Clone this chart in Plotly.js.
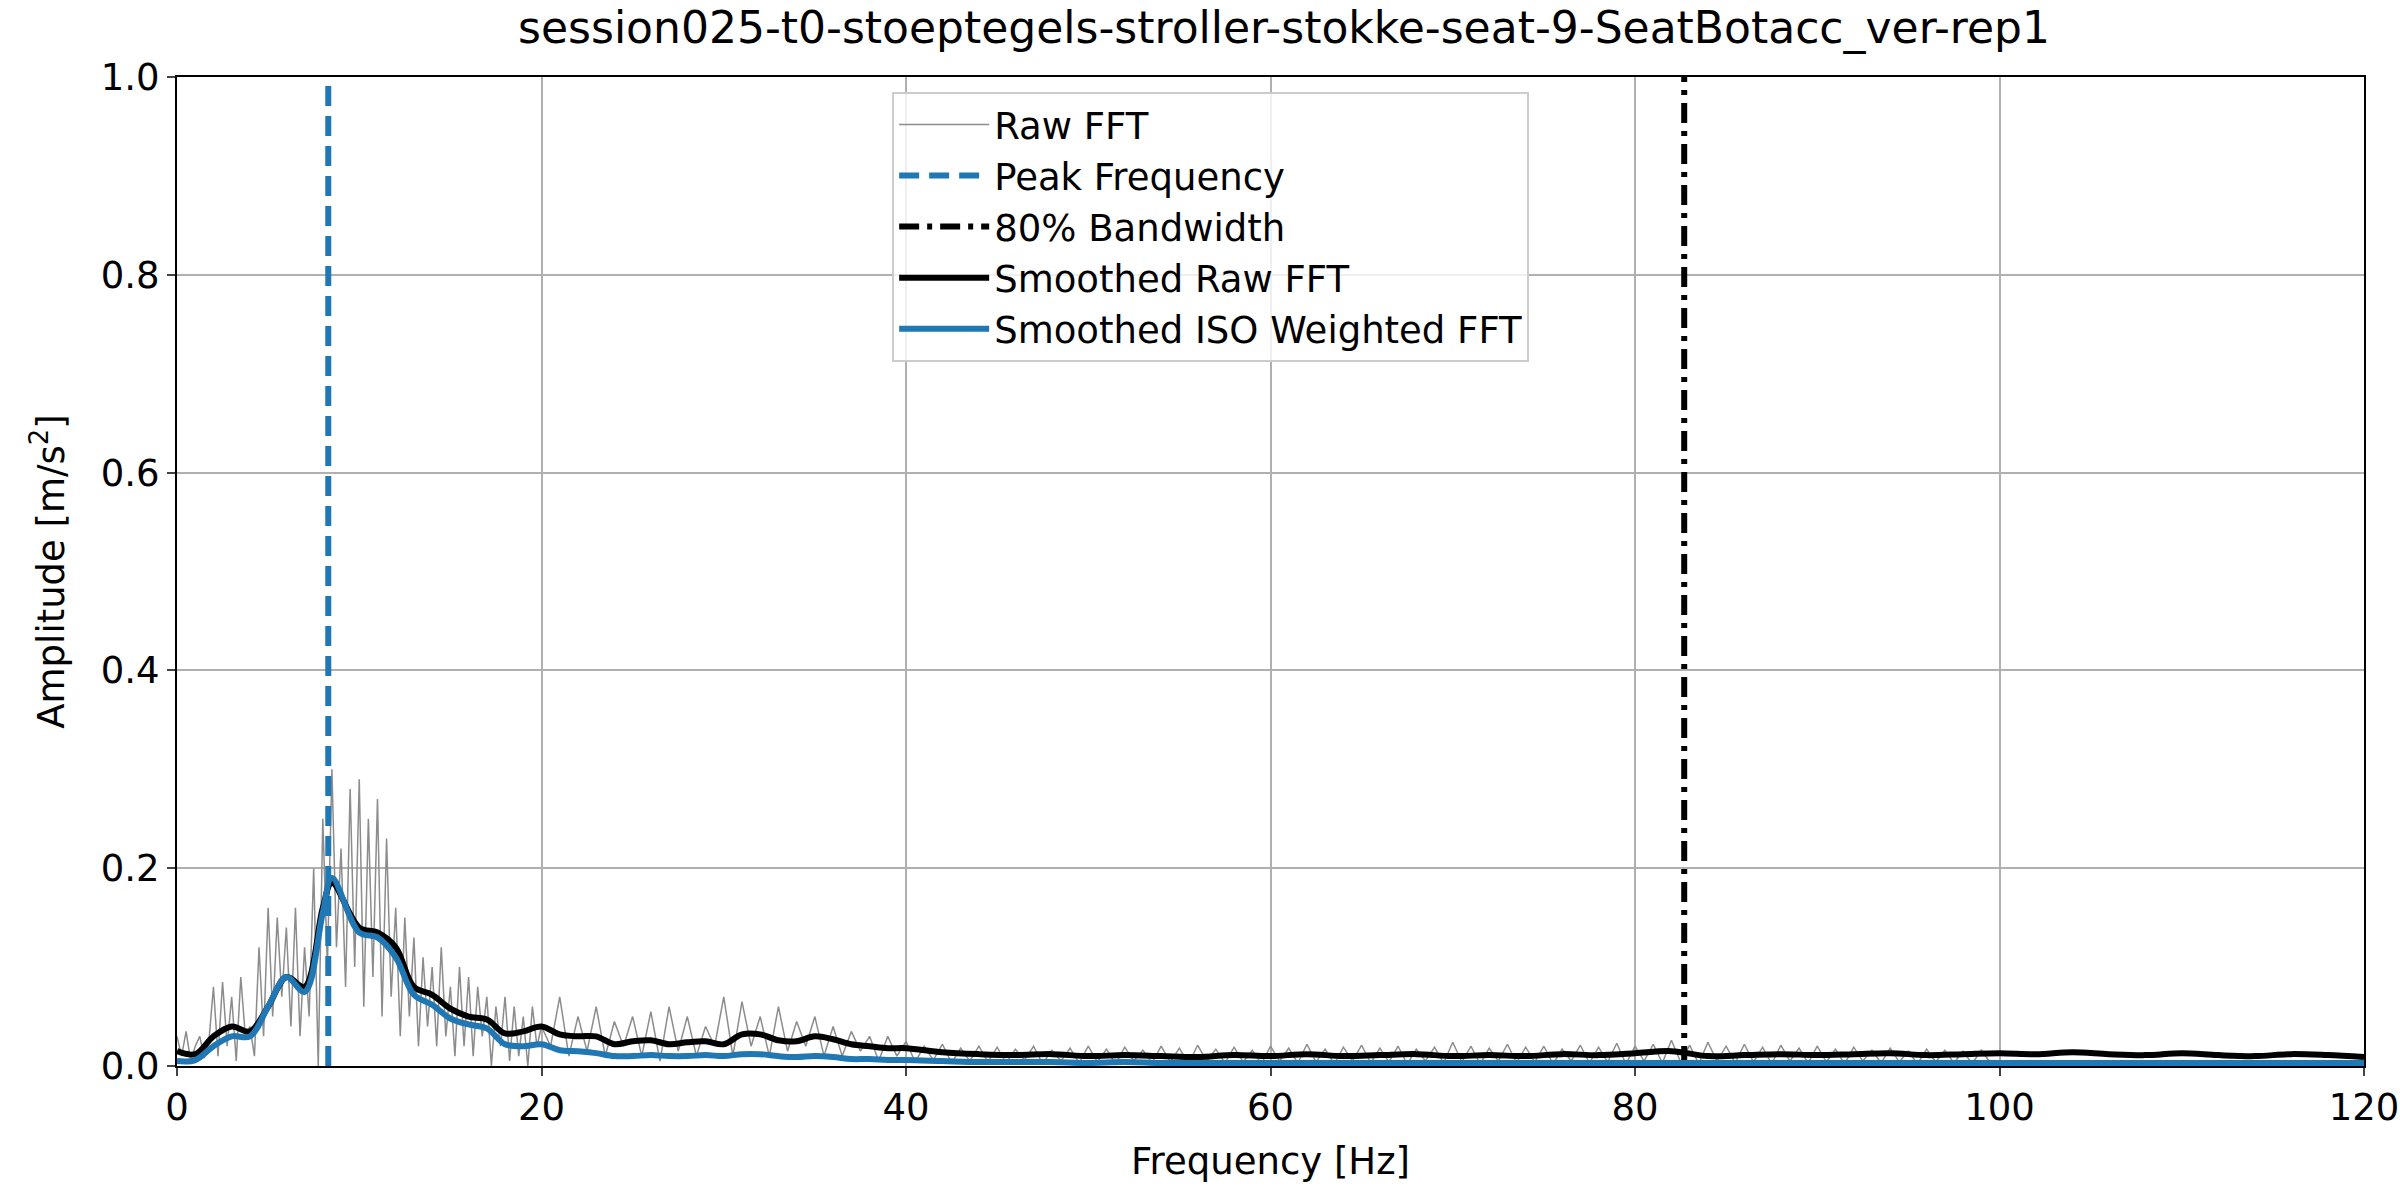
<!DOCTYPE html>
<html>
<head>
<meta charset="utf-8">
<script src="https://cdn.plot.ly/plotly-3.0.1.min.js"></script>
<style>body{margin:0;background:#fff}#chart{width:2400px;height:1200px}</style>
</head>
<body>
<div id="chart"></div>
<script>
// raw FFT amplitude, 0-20 Hz at 0.25 Hz
var rawLow = [0.03,0.01,0.035,0.005,0.02,0.03,0.008,0.025,
  0.08,0.01,0.085,0.02,0.07,0.005,0.09,0.03,
  0.04,0.01,0.12,0.03,0.16,0.05,0.15,0.07,
  0.14,0.04,0.16,0.03,0.12,0.05,0.2,0.0,
  0.25,0.1,0.3,0.12,0.22,0.08,0.28,0.1,
  0.29,0.06,0.25,0.09,0.27,0.05,0.23,0.07,
  0.16,0.03,0.15,0.05,0.13,0.02,0.11,0.04,
  0.1,0.02,0.12,0.03,0.08,0.01,0.1,0.02,
  0.09,0.01,0.08,0.03,0.07,0.0,0.06,0.02,
  0.07,0.005,0.06,0.01,0.05,0.0,0.06,0.02,0.04];
// raw FFT amplitude, 20.5-120 Hz at 0.5 Hz
var rawHigh = [0.02,0.07,0.01,0.05,0.015,0.06,0.01,0.045,0.02,0.05,
  0.01,0.055,0.005,0.06,0.015,0.05,0.01,0.04,0.02,0.07,
  0.01,0.065,0.02,0.05,0.01,0.06,0.015,0.045,0.02,0.05,
  0.01,0.04,0.01,0.035,0.015,0.03,0.005,0.03,0.01,
  0.025,0.004,0.02,0.006,0.022,0.003,0.018,0.005,0.02,0.004,
  0.019,0.003,0.017,0.006,0.02,0.002,0.016,0.005,0.018,0.003,
  0.02,0.004,0.017,0.002,0.019,0.005,0.016,0.003,0.02,0.004,
  0.018,0.002,0.021,0.005,0.017,0.003,0.019,0.004,0.016,0.002,
  0.02,0.005,0.018,0.003,0.022,0.004,0.017,0.002,0.019,0.005,
  0.021,0.003,0.018,0.004,0.02,0.002,0.017,0.005,0.019,0.003,
  0.024,0.004,0.02,0.002,0.018,0.005,0.022,0.003,0.019,0.004,
  0.02,0.002,0.017,0.005,0.021,0.003,0.019,0.004,0.023,0.002,
  0.02,0.005,0.022,0.003,0.026,0.004,0.021,0.002,0.024,0.005,
  0.02,0.003,0.022,0.004,0.019,0.002,0.021,0.005,0.018,0.003,
  0.02,0.004,0.017,0.002,0.019,0.005,0.016,0.003,0.018,0.004,
  0.015,0.002,0.017,0.004,0.016,0.003,0.015,0.002,0.016,0.003];
// smoothed curves, 1 Hz steps 0-40
var smoothRaw = [0.015,0.012,0.03,0.04,0.035,0.06,0.09,0.08,0.16,0.16,0.14,0.135,0.12,0.08,0.072,0.058,0.05,0.047,0.033,0.035,
  0.04,0.032,0.03,0.03,0.022,0.025,0.026,0.022,0.024,0.025,0.022,0.032,0.032,0.026,0.025,0.03,0.027,0.022,0.02,0.018,0.018];
var smoothIso = [0.005,0.006,0.02,0.03,0.03,0.06,0.09,0.075,0.155,0.155,0.135,0.13,0.11,0.072,0.062,0.048,0.042,0.038,0.022,0.02,
  0.022,0.016,0.015,0.013,0.01,0.01,0.011,0.01,0.01,0.011,0.01,0.012,0.012,0.01,0.009,0.01,0.009,0.007,0.007,0.006,0.006];
// smoothed curves, 2 Hz steps 42-120
var smoothRawHi = [0.014,0.012,0.011,0.012,0.01,0.011,0.01,0.009,0.011,0.01,0.012,0.01,0.011,0.012,0.01,0.011,0.01,0.012,0.011,0.013,
  0.015,0.01,0.011,0.012,0.011,0.012,0.013,0.011,0.012,0.013,0.012,0.014,0.012,0.011,0.013,0.011,0.01,0.012,0.011,0.009];
var smoothIsoHi = [0.005,0.004,0.004,0.004,0.003,0.004,0.003,0.003,0.003,0.003,0.003,0.003,0.003,0.003,0.003,0.003,0.003,0.003,0.003,0.003,
  0.003,0.003,0.003,0.003,0.003,0.003,0.003,0.003,0.003,0.003,0.003,0.003,0.003,0.003,0.003,0.003,0.003,0.003,0.003,0.003];
var peakFreq = 8.3;
var bandFreq = 82.7;

var rawY = rawLow.concat(rawHigh);
var rawX = rawY.map(function(v, i){ return i <= 80 ? i*0.25 : 20 + (i-80)*0.5; });
var smX = [];
for (var i = 0; i <= 40; i++) smX.push(i);
for (var j = 42; j <= 120; j += 2) smX.push(j);
// put the peak of the smoothed curves on the peak frequency
smX[8] = 8; smX[9] = peakFreq + 0.2;
smoothRaw[9] = 0.185; smoothIso[9] = 0.19;

var data = [
  {x: rawX, y: rawY, mode: 'lines', name: 'Raw FFT', line: {color: '#8c8c8c', width: 1.5}},
  {x: [peakFreq, peakFreq], y: [0, 1], mode: 'lines', name: 'Peak Frequency', line: {color: '#1f77b4', width: 6, dash: '20px,10px'}},
  {x: [bandFreq, bandFreq], y: [0, 1], mode: 'lines', name: '80% Bandwidth', line: {color: 'black', width: 6, dash: '20px,8px,5px,8px'}},
  {x: smX, y: smoothRaw.concat(smoothRawHi), mode: 'lines', name: 'Smoothed Raw FFT', line: {color: 'black', width: 6, shape: 'spline'}},
  {x: smX, y: smoothIso.concat(smoothIsoHi), mode: 'lines', name: 'Smoothed ISO Weighted FFT', line: {color: '#1f77b4', width: 6, shape: 'spline'}}
];

var ax = {showline: true, linecolor: 'black', linewidth: 2, mirror: true, ticks: 'outside', ticklen: 8, tickwidth: 2,
  gridcolor: '#b0b0b0', gridwidth: 2, zeroline: false, tickfont: {size: 37}};
var layout = {
  width: 2400, height: 1200,
  margin: {l: 177, r: 36, t: 77, b: 134},
  font: {family: 'DejaVu Sans', color: 'black'},
  title: {text: 'session025-t0-stoeptegels-stroller-stokke-seat-9-SeatBotacc_ver-rep1', font: {size: 44}, x: 0.535, y: 0.99, yanchor: 'top'},
  xaxis: Object.assign({}, ax, {range: [0, 120], dtick: 20, title: {text: 'Frequency [Hz]', font: {size: 37}, standoff: 20}}),
  yaxis: Object.assign({}, ax, {range: [0, 1], dtick: 0.2, tickformat: '.1f', title: {text: 'Amplitude [m/s<sup>2</sup>]', font: {size: 37}, standoff: 25}}),
  showlegend: true,
  legend: {x: 0.327, y: 0.985, xanchor: 'left', yanchor: 'top', bordercolor: '#cccccc', borderwidth: 2, font: {size: 37}, itemwidth: 90, bgcolor: 'rgba(255,255,255,0.8)'},
  plot_bgcolor: 'white', paper_bgcolor: 'white'
};
Plotly.newPlot('chart', data, layout, {displayModeBar: false});
</script>
</body>
</html>
